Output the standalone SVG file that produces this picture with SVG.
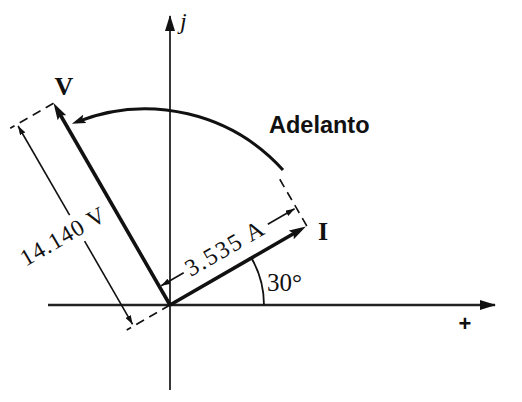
<svg xmlns="http://www.w3.org/2000/svg" width="522" height="402" viewBox="0 0 522 402">
<style>
.axis{stroke:#222;fill:none}
.vec{stroke:#111;stroke-width:3.6;fill:none}
.dim{stroke:#111;stroke-width:1.6;fill:none}
.ext{stroke:#111;stroke-width:1.6;fill:none;stroke-dasharray:9 6}
.arc{stroke:#111;stroke-width:3;fill:none}
.ang{stroke:#111;stroke-width:1.8;fill:none}
.serif{font-family:"Liberation Serif","Times New Roman",serif;fill:#111}
.sans{font-family:"Liberation Sans",Arial,sans-serif;fill:#111}
</style>
<defs>
<marker id="axhead" viewBox="0 0 16 10" refX="15" refY="5" markerWidth="16" markerHeight="10" markerUnits="userSpaceOnUse" orient="auto">
<path d="M0,0 L16,5 L0,10 Z" fill="#111"/>
</marker>
<marker id="vhead" viewBox="0 0 17 10" refX="9" refY="5" markerWidth="17" markerHeight="10" markerUnits="userSpaceOnUse" orient="auto">
<path d="M0,0 L17,5 L0,10 L3,5 Z" fill="#111"/>
</marker>
<marker id="archead" viewBox="0 0 14 9" refX="8" refY="4.5" markerWidth="14" markerHeight="9" markerUnits="userSpaceOnUse" orient="auto">
<path d="M0,0 L14,4.5 L0,9 L3,4.5 Z" fill="#111"/>
</marker>
<marker id="dimhead" viewBox="0 0 9 6" refX="9" refY="3" markerWidth="9" markerHeight="6" markerUnits="userSpaceOnUse" orient="auto">
<path d="M0,0 L9,3 L0,6 Z" fill="#111"/>
</marker>
</defs>

<g id="connectors">
<line id="x-axis" class="axis" stroke-width="2.6" x1="48" y1="305" x2="495" y2="305" marker-end="url(#axhead)"/>
<line id="y-axis" class="axis" stroke-width="1.8" x1="170" y1="390" x2="170" y2="16" marker-end="url(#axhead)"/>
<line id="vec-V" class="vec" x1="170" y1="305" x2="57.5" y2="110" marker-end="url(#vhead)"/>
<line id="vec-I" class="vec" x1="170" y1="305" x2="299" y2="230.5" marker-end="url(#vhead)"/>
<path id="arc-adelanto" class="arc" d="M283,170 A186,186 0 0 0 77.5,121.6" marker-end="url(#archead)"/>
<path id="arc-30" class="ang" d="M264,305 A94,94 0 0 0 251.4,258"/>
<line class="ext" x1="53.5" y1="103.2" x2="10.2" y2="128.2"/>
<line class="ext" x1="170" y1="305" x2="126.7" y2="330"/>
<line class="ext" x1="306.8" y1="226" x2="277.8" y2="175.8"/>
<line class="dim" x1="84.6" y1="241.1" x2="132.6" y2="324.3" marker-end="url(#dimhead)"/>
<line class="dim" x1="69.6" y1="215.2" x2="18.1" y2="126" marker-end="url(#dimhead)"/>
<line class="dim" x1="183.7" y1="272.8" x2="161.2" y2="285.8" marker-end="url(#dimhead)"/>
<line class="dim" x1="267.8" y1="224.3" x2="294.6" y2="208.8" marker-end="url(#dimhead)"/>
</g>

<g id="label-j"><text class="serif" x="180" y="29" font-size="24" font-style="italic">j</text></g>
<g id="label-plus"><text class="sans" x="465" y="331" font-size="22" font-weight="bold" text-anchor="middle">+</text></g>
<g id="label-V"><text class="serif" x="64" y="95" font-size="26" font-weight="bold" text-anchor="middle">V</text></g>
<g id="label-I"><text class="serif" x="323" y="240" font-size="26" font-weight="bold" text-anchor="middle">I</text></g>
<g id="label-adelanto"><text class="sans" x="269" y="133" font-size="23.5" font-weight="bold">Adelanto</text></g>
<g id="label-30"><text class="serif" x="267" y="291" font-size="25">30°</text></g>
<g id="label-V-mag"><text class="serif" transform="translate(63,236) rotate(-30)" x="0" y="8" font-size="23.5" letter-spacing="1" text-anchor="middle">14.140 V</text></g>
<g id="label-I-mag"><text class="serif" transform="translate(225,248) rotate(-30)" x="0" y="8" font-size="24" letter-spacing="1.8" text-anchor="middle">3.535 A</text></g>
</svg>
